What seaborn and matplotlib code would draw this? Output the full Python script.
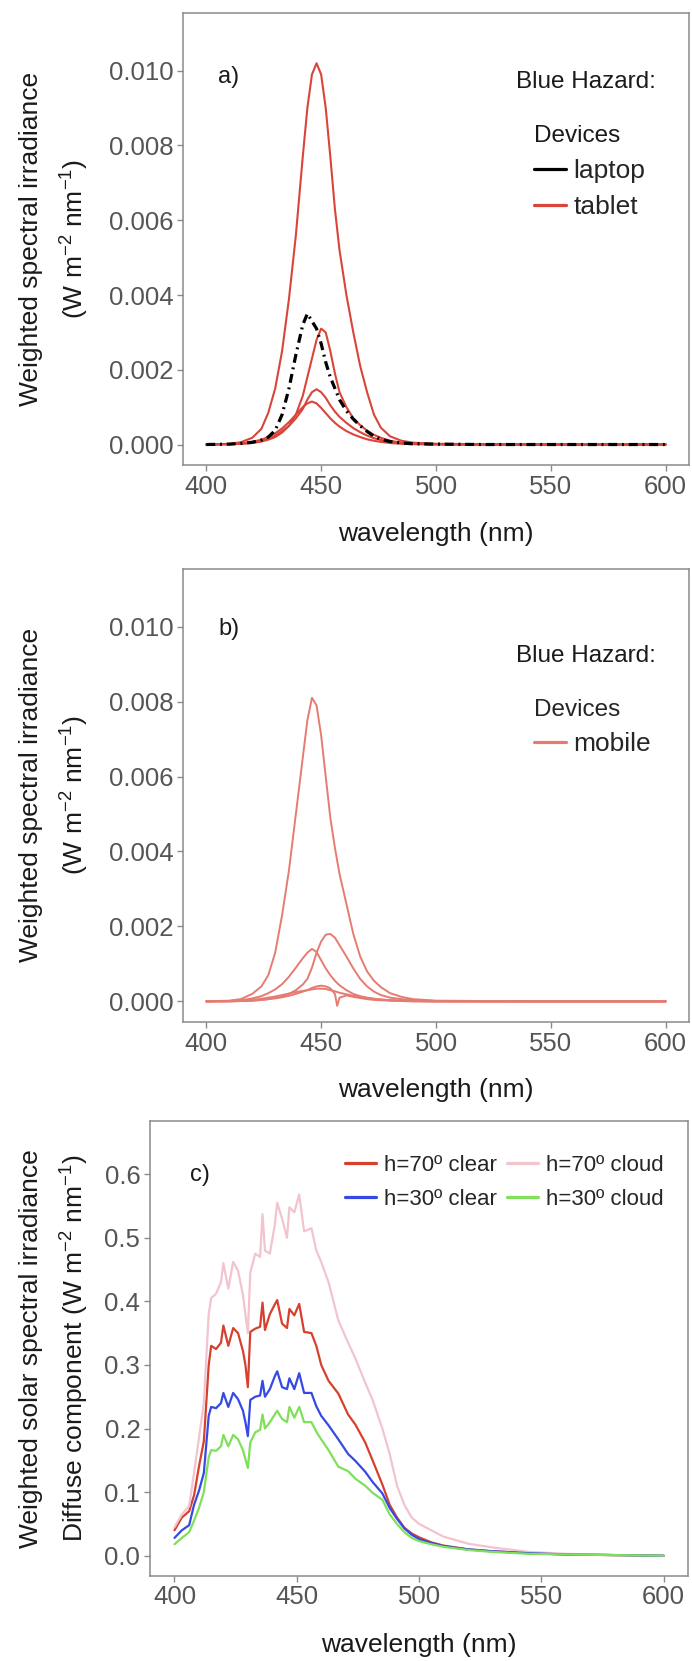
import pandas as pd
import matplotlib.pyplot as plt
from matplotlib.lines import Line2D
import seaborn as sns

# ---------------- data ----------------
# panel a: blue-hazard weighted irradiance, laptop + tablets
wl_a = [400, 410, 415, 420, 424, 427, 430, 433, 436, 439, 442, 444, 446, 448, 450, 452,
        454, 456, 458, 461, 464, 467, 470, 473, 476, 480, 485, 490, 500, 520, 550, 600]
laptop = [0, 0.00001, 0.00003, 0.00006, 0.00012, 0.0002, 0.00038, 0.0008, 0.0015, 0.0024,
          0.0032, 0.0035, 0.0033, 0.0031, 0.0027, 0.0022, 0.0018, 0.0015, 0.0012, 0.0009,
          0.00068, 0.0005, 0.00035, 0.00022, 0.00014, 0.00008, 0.00004, 0.00002, 0.00001, 0,
          0, 0]
tablet_1 = [0, 0.00002, 0.00006, 0.00018, 0.00042, 0.00085, 0.0015, 0.0025, 0.0039, 0.0056,
            0.0077, 0.0090, 0.0099, 0.0102, 0.0099, 0.0090, 0.0077, 0.0063, 0.0052, 0.0040,
            0.0030, 0.0021, 0.0014, 0.0008, 0.00045, 0.00022, 0.0001, 0.00005, 0.00002, 0.00001,
            0, 0]
tablet_2 = [0, 0.00001, 0.00002, 0.00004, 0.00008, 0.00013, 0.0002, 0.00032, 0.0005, 0.0008,
            0.0013, 0.0018, 0.0023, 0.0028, 0.0031, 0.0030, 0.0025, 0.0019, 0.0014, 0.0010,
            0.0007, 0.00052, 0.00037, 0.00026, 0.00018, 0.0001, 0.00005, 0.00003, 0.00001, 0,
            0, 0]
tablet_3 = [0, 0.00001, 0.00002, 0.00005, 0.0001, 0.00016, 0.00024, 0.00036, 0.0005, 0.0007,
            0.00095, 0.0012, 0.0014, 0.00148, 0.0014, 0.00125, 0.00105, 0.00088, 0.00074, 0.00058,
            0.00044, 0.00033, 0.00024, 0.00017, 0.00012, 0.00007, 0.00004, 0.00002, 0.00001, 0,
            0, 0]
tablet_4 = [0, 0.00001, 0.00003, 0.00007, 0.00013, 0.0002, 0.0003, 0.00043, 0.0006, 0.0008,
            0.001, 0.0011, 0.00115, 0.0011, 0.00098, 0.00084, 0.0007, 0.00058, 0.00048, 0.00036,
            0.00027, 0.0002, 0.00014, 0.0001, 0.00007, 0.00004, 0.00002, 0.00001, 0, 0,
            0, 0]

# panel b: mobiles
wl_b = [400, 410, 415, 420, 424, 427, 430, 433, 436, 439, 442, 444, 446, 448, 450, 452,
        454, 456, 457, 458, 461, 464, 467, 470, 473, 476, 480, 485, 490, 500, 520, 550, 600]
mobile_1 = [0, 0.00002, 0.00006, 0.0002, 0.0004, 0.0007, 0.0013, 0.0023, 0.0035, 0.0050,
            0.0065, 0.0075, 0.0081, 0.0079, 0.0071, 0.0060, 0.0049, 0.0041, 0.00375, 0.0034,
            0.0026, 0.0018, 0.0012, 0.0008, 0.00055, 0.00038, 0.00022, 0.00012, 0.00006, 0.00002,
            0.00001, 0, 0]
mobile_2 = [0, 0, 0.00001, 0.00002, 0.00004, 0.00006, 0.0001, 0.00014, 0.0002, 0.0003,
            0.00045, 0.0006, 0.0009, 0.0013, 0.0016, 0.00178, 0.0018, 0.0017, 0.0016, 0.0015,
            0.0012, 0.00088, 0.0006, 0.0004, 0.00026, 0.00017, 0.0001, 0.00006, 0.00003, 0.00001,
            0, 0, 0]
mobile_3 = [0, 0.00001, 0.00003, 0.00008, 0.00014, 0.00022, 0.00032, 0.00046, 0.00066, 0.0009,
            0.00115, 0.0013, 0.0014, 0.00132, 0.0011, 0.00088, 0.0007, 0.00055, 0.00049, 0.00043,
            0.0003, 0.0002, 0.00014, 0.0001, 0.00007, 0.00005, 0.00003, 0.00002, 0.00001, 0,
            0, 0, 0]
mobile_4 = [0, 0, 0.00001, 0.00002, 0.00004, 0.00006, 0.00008, 0.00011, 0.00015, 0.0002,
            0.00026, 0.0003, 0.00036, 0.0004, 0.00042, 0.0004, 0.00035, 0.0002, -0.00012, 0.0001,
            0.00016, 0.00012, 0.00009, 0.00006, 0.00004, 0.00003, 0.00002, 0.00001, 0, 0,
            0, 0, 0]
mobile_5 = [0, 0.00001, 0.00002, 0.00004, 0.00007, 0.0001, 0.00013, 0.00017, 0.00021, 0.00025,
            0.00028, 0.0003, 0.00032, 0.00034, 0.00034, 0.00033, 0.0003, 0.00027, 0.00025, 0.00023,
            0.00019, 0.00015, 0.00012, 0.00009, 0.00007, 0.00005, 0.00003, 0.00002, 0.00001, 0,
            0, 0, 0]

# panel c: diffuse solar component
wl_c = [400, 403, 406, 408, 410, 412, 414, 415, 417, 419, 420, 422, 424, 426, 428, 429, 430,
        431, 433, 435, 436, 437, 439, 441, 442, 444, 446, 447, 449, 451, 453, 456, 458, 460,
        463, 467, 471, 474, 478, 481, 485, 488, 491, 494, 497, 500, 505, 510, 520, 530, 545,
        560, 580, 600]
h70_clear = [0.040, 0.060, 0.070, 0.095, 0.140, 0.180, 0.300, 0.330, 0.325, 0.335,
             0.362, 0.330, 0.358, 0.350, 0.322, 0.300, 0.265, 0.352, 0.357, 0.360,
             0.398, 0.355, 0.380, 0.395, 0.402, 0.365, 0.358, 0.388, 0.378, 0.396,
             0.352, 0.350, 0.330, 0.300, 0.275, 0.255, 0.222, 0.206, 0.178, 0.150,
             0.112, 0.080, 0.060, 0.044, 0.035, 0.029, 0.021, 0.016, 0.010, 0.007,
             0.004, 0.002, 0.001, 0.000]
h70_cloud = [0.045, 0.065, 0.078, 0.130, 0.185, 0.240, 0.380, 0.405, 0.412, 0.430,
             0.460, 0.420, 0.462, 0.448, 0.410, 0.380, 0.350, 0.445, 0.475, 0.470,
             0.537, 0.480, 0.475, 0.520, 0.555, 0.530, 0.500, 0.548, 0.540, 0.568,
             0.510, 0.515, 0.480, 0.462, 0.430, 0.370, 0.335, 0.310, 0.272, 0.245,
             0.200, 0.160, 0.110, 0.080, 0.060, 0.050, 0.040, 0.030, 0.019, 0.013,
             0.006, 0.003, 0.001, 0.000]
h30_clear = [0.028, 0.040, 0.048, 0.080, 0.102, 0.130, 0.220, 0.234, 0.232, 0.240,
             0.256, 0.234, 0.256, 0.246, 0.228, 0.210, 0.188, 0.245, 0.250, 0.252,
             0.275, 0.250, 0.262, 0.282, 0.290, 0.265, 0.262, 0.279, 0.262, 0.287,
             0.256, 0.256, 0.235, 0.220, 0.205, 0.183, 0.160, 0.149, 0.132, 0.116,
             0.098, 0.075, 0.058, 0.043, 0.033, 0.026, 0.020, 0.015, 0.010, 0.007,
             0.004, 0.002, 0.001, 0.000]
h30_cloud = [0.018, 0.028, 0.037, 0.055, 0.075, 0.100, 0.155, 0.166, 0.165, 0.172,
             0.190, 0.172, 0.190, 0.183, 0.166, 0.152, 0.138, 0.178, 0.194, 0.198,
             0.222, 0.200, 0.210, 0.222, 0.228, 0.215, 0.210, 0.234, 0.217, 0.234,
             0.210, 0.210, 0.195, 0.183, 0.166, 0.140, 0.133, 0.121, 0.110, 0.099,
             0.088, 0.065, 0.050, 0.037, 0.028, 0.023, 0.018, 0.014, 0.009, 0.006,
             0.003, 0.002, 0.001, 0.000]

x_ticks = [400, 450, 500, 550, 600]
y_ticks_ab = [0.000, 0.002, 0.004, 0.006, 0.008, 0.010]
y_ticks_c = [0.0, 0.1, 0.2, 0.3, 0.4, 0.5, 0.6]
c_labels = ['h=70º clear', 'h=30º clear', 'h=70º cloud', 'h=30º cloud']


def to_long(wl, curves):
    rows = []
    for name, vals in curves.items():
        for w, v in zip(wl, vals):
            rows.append({'wl': w, 'val': v, 'curve': name})
    return pd.DataFrame(rows)


df_tab = to_long(wl_a, {'t1': tablet_1, 't2': tablet_2, 't3': tablet_3, 't4': tablet_4})
df_lap = to_long(wl_a, {'laptop': laptop})
df_mob = to_long(wl_b, {'m1': mobile_1, 'm2': mobile_2, 'm3': mobile_3,
                        'm4': mobile_4, 'm5': mobile_5})
df_c = to_long(wl_c, {c_labels[0]: h70_clear, c_labels[2]: h70_cloud,
                      c_labels[1]: h30_clear, c_labels[3]: h30_cloud})

# ---------------- style ----------------
sns.set_style('white')
plt.rcParams['font.family'] = ['Liberation Sans', 'DejaVu Sans']
plt.rcParams['mathtext.fontset'] = 'custom'
plt.rcParams['mathtext.rm'] = 'Liberation Sans'
plt.rcParams['mathtext.it'] = 'Liberation Sans:italic'

RED = '#D9453A'
MOBILE = '#E57C72'
TICK = '#555555'
FRAME = '#8a8a8a'
TXT = '#1a1a1a'
c_colors = {c_labels[0]: '#D7402F', c_labels[2]: '#F2C4CD',
            c_labels[1]: '#3549E6', c_labels[3]: '#7FE05A'}

FS_TICK = 18.5
FS_TITLE = 19
FS_LEG = 19
FS_LEGT = 17.5


def style_axes(ax, ylim, yticks, fmt, xlab_y):
    ax.set_xlim(390, 610)
    ax.set_ylim(*ylim)
    ax.set_xticks(x_ticks)
    ax.set_yticks(yticks)
    ax.set_yticklabels([fmt.format(v) for v in yticks])
    for s in ax.spines.values():
        s.set_visible(True)
        s.set_color(FRAME)
        s.set_linewidth(1.1)
    ax.tick_params(bottom=True, left=True, direction='out', length=4, width=1,
                   color=FRAME, labelcolor=TICK, labelsize=FS_TICK, pad=3)
    ax.grid(False)
    ax.set_ylabel('')
    ax.set_xlabel('wavelength (nm)', fontsize=FS_TITLE, color=TXT, va='center')
    ax.xaxis.set_label_coords(0.5, xlab_y)


def ylabel(ax, line1, line2):
    pos = ax.get_position()
    yc = pos.y0 + pos.height / 2
    fig.text(31 / 692, yc, line1, rotation=90, ha='center', va='center',
             fontsize=FS_TITLE, color=TXT)
    fig.text(75 / 692, yc, line2, rotation=90, ha='center', va='center',
             fontsize=FS_TITLE, color=TXT)


fig = plt.figure(figsize=(6.92, 16.61), dpi=100)
ax_a = fig.add_axes([0.2649, 0.7200, 0.7303, 0.2723])
ax_b = fig.add_axes([0.2649, 0.3847, 0.7303, 0.2730])
ax_c = fig.add_axes([0.2168, 0.05136, 0.7775, 0.2739])

unit = 'W m$^{-2}$ nm$^{-1}$'

# ---- a) ----
sns.lineplot(data=df_tab, x='wl', y='val', units='curve', estimator=None, sort=False,
             color=RED, lw=1.5, ax=ax_a, legend=False)
sns.lineplot(data=df_lap, x='wl', y='val', estimator=None, sort=False, color='black',
             lw=2.3, dashes=False, ax=ax_a, legend=False)
ax_a.lines[-1].set_dashes((2.8, 1.5, 0.6, 1.5))
style_axes(ax_a, (-0.00055, 0.01155), y_ticks_ab, '{:.3f}', -0.1526)
ylabel(ax_a, 'Weighted spectral irradiance', '(' + unit + ')')
ax_a.text(0.0904, 0.858, 'a)', transform=ax_a.transAxes, fontsize=17, color=TXT,
          ha='center', va='center')
ax_a.text(0.6583, 0.8468, 'Blue Hazard:', transform=ax_a.transAxes, fontsize=FS_LEGT,
          color=TXT, ha='left', va='center')
h_a = [Line2D([], [], color='black', lw=2.3), Line2D([], [], color=RED, lw=2.3)]
leg = ax_a.legend(h_a, ['laptop', 'tablet'], title='Devices', loc='upper left',
                  bbox_to_anchor=(0.668, 0.781), frameon=False, fontsize=FS_LEG,
                  title_fontsize=FS_LEGT, borderpad=0, handlelength=1.2,
                  handletextpad=0.3, labelspacing=0.45, alignment='left')
leg.get_title().set_color(TXT)

# ---- b) ----
sns.lineplot(data=df_mob, x='wl', y='val', units='curve', estimator=None, sort=False,
             color=MOBILE, lw=1.4, ax=ax_b, legend=False)
style_axes(ax_b, (-0.00055, 0.01155), y_ticks_ab, '{:.3f}', -0.150)
ylabel(ax_b, 'Weighted spectral irradiance', '(' + unit + ')')
ax_b.text(0.0904, 0.8668, 'b)', transform=ax_b.transAxes, fontsize=17, color=TXT,
          ha='center', va='center')
ax_b.text(0.6583, 0.8072, 'Blue Hazard:', transform=ax_b.transAxes, fontsize=FS_LEGT,
          color=TXT, ha='left', va='center')
h_b = [Line2D([], [], color=MOBILE, lw=2.3)]
leg = ax_b.legend(h_b, ['mobile'], title='Devices', loc='upper left',
                  bbox_to_anchor=(0.668, 0.7425), frameon=False, fontsize=FS_LEG,
                  title_fontsize=FS_LEGT, borderpad=0, handlelength=1.2,
                  handletextpad=0.3, labelspacing=0.45, alignment='left')

# ---- c) ----
sns.lineplot(data=df_c, x='wl', y='val', hue='curve', palette=c_colors,
             hue_order=[c_labels[0], c_labels[2], c_labels[1], c_labels[3]],
             estimator=None, sort=False, lw=1.6, ax=ax_c, legend=False)
style_axes(ax_c, (-0.0314, 0.684), y_ticks_c, '{:.1f}', -0.1514)
ylabel(ax_c, 'Weighted solar spectral irradiance', 'Diffuse component (' + unit + ')')
ax_c.text(0.093, 0.8807, 'c)', transform=ax_c.transAxes, fontsize=17, color=TXT,
          ha='center', va='center')
h_c = [Line2D([], [], color=c_colors[l], lw=2.3) for l in c_labels]
ax_c.legend(h_c, c_labels, ncol=2, loc='upper right', bbox_to_anchor=(0.975, 0.95),
            frameon=False, fontsize=16, borderpad=0, handlelength=1.4,
            handletextpad=0.35, columnspacing=0.45, labelspacing=0.6)

fig.savefig('out.png', dpi=100)
